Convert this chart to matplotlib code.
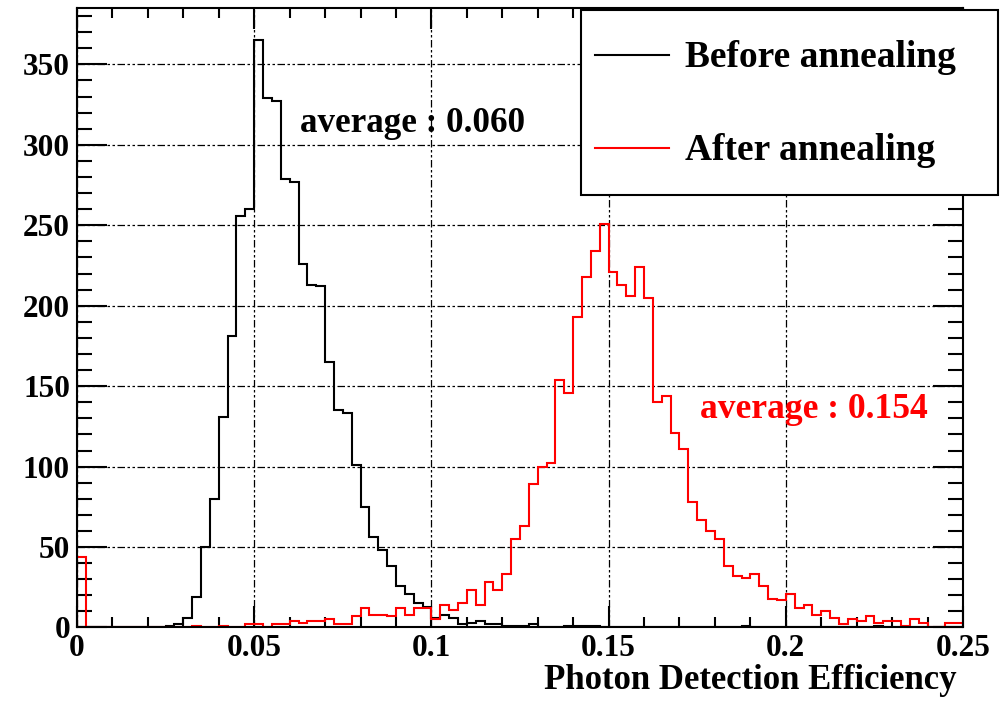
import matplotlib
matplotlib.use('Agg')
import matplotlib.pyplot as plt
import numpy as np
from matplotlib.lines import Line2D
from matplotlib.patches import Rectangle
from matplotlib.ticker import MultipleLocator, FuncFormatter

# ---- data -------------------------------------------------------------
bin_width = 0.0025
n_bins = 100
edges = np.arange(n_bins + 1) * bin_width

before_counts = [
    0, 0, 0, 0, 0, 0, 0, 0, 0, 0,            # 0.000-0.025
    1, 2, 6, 19, 50, 80, 131, 181, 256, 260,  # 0.025-0.050
    365, 329, 327, 279, 277, 226, 213, 212, 165, 135,  # 0.050-0.075
    133, 101, 75, 56, 48, 38, 26, 21, 15, 13,  # 0.075-0.100
    6, 8, 6, 2, 3, 4, 2, 2, 1, 1,              # 0.100-0.125
    1, 2, 0, 0, 0, 1, 1, 1, 1, 0,              # 0.125-0.150
    0, 0, 0, 0, 0, 0, 0, 0, 0, 0,              # 0.150-0.175
    0, 0, 0, 0, 0, 1, 0, 0, 0, 0,              # 0.175-0.200
    0, 0, 0, 0, 0, 0, 0, 0, 0, 0,              # 0.200-0.225
    1, 0, 0, 0, 0, 0, 0, 0, 0, 0,              # 0.225-0.250
]

after_counts = [
    44, 0, 0, 0, 0, 0, 0, 0, 0, 0,
    0, 0, 0, 1, 0, 0, 1, 0, 0, 2,
    2, 0, 2, 2, 4, 3, 4, 4, 5, 2,
    2, 7, 12, 8, 8, 7, 12, 8, 12, 12,
    5, 14, 11, 15, 23, 14, 28, 23, 33, 55,
    63, 89, 100, 102, 154, 146, 193, 218, 234, 251,
    221, 213, 206, 224, 205, 140, 144, 121, 111, 78,
    67, 60, 55, 38, 32, 31, 33, 26, 18, 17,
    21, 12, 14, 8, 10, 6, 2, 5, 4, 7,
    3, 4, 4, 1, 5, 3, 0, 0, 3, 3,
]

series_labels = ["Before annealing", "After annealing"]
series_colors = ["black", "red"]
avg_labels = ["average : 0.060", "average : 0.154"]
x_title = "Photon Detection Efficiency"

# ---- style ------------------------------------------------------------
plt.rcParams['font.family'] = ['Liberation Serif', 'DejaVu Serif']
plt.rcParams['font.weight'] = 'bold'

fig = plt.figure(figsize=(10, 7.03), dpi=100)
ax = fig.add_axes([0.077, 0.1074, 0.886, 0.8812])

ax.stairs(before_counts, edges, color=series_colors[0], lw=1.5, baseline=0, zorder=3)
ax.stairs(after_counts, edges, color=series_colors[1], lw=1.5, baseline=0, zorder=4)

ax.set_xlim(0, 0.25)
ax.set_ylim(0, 385)

ax.xaxis.set_major_locator(MultipleLocator(0.05))
ax.xaxis.set_minor_locator(MultipleLocator(0.01))
ax.yaxis.set_major_locator(MultipleLocator(50))
ax.yaxis.set_minor_locator(MultipleLocator(10))
ax.xaxis.set_major_formatter(FuncFormatter(lambda v, p: f"{v:g}"))
ax.yaxis.set_major_formatter(FuncFormatter(lambda v, p: f"{v:g}"))

ax.tick_params(axis='both', which='both', direction='in', top=True, right=True,
               width=1.5, colors='black')
ax.tick_params(axis='x', which='major', length=15, pad=5)
ax.tick_params(axis='x', which='minor', length=7.5)
ax.tick_params(axis='y', which='major', length=21.6, pad=5)
ax.tick_params(axis='y', which='minor', length=11)
ax.tick_params(axis='both', which='major', labelsize=22.5)

ax.grid(True, which='major', color='black', lw=0.9,
        linestyle=(0, (6, 2, 2, 2, 2, 2)), zorder=1)
ax.set_axisbelow(True)
for s in ax.spines.values():
    s.set_linewidth(1.5)
    s.set_zorder(6)

ax.set_xlabel(x_title, fontsize=25, fontweight='bold', loc='right')
ax.xaxis.label.set_va('baseline')
ax.xaxis.set_label_coords(0.9932, -0.1)

ax.text(0.0629, 307.9, avg_labels[0], color=series_colors[0], fontsize=25.3,
        fontweight='bold', va='baseline', ha='left', zorder=7)
ax.text(0.1758, 130.2, avg_labels[1], color=series_colors[1], fontsize=25.6,
        fontweight='bold', va='baseline', ha='left', zorder=7)

# ---- legend (ROOT-like box) ------------------------------------------
fig.add_artist(Rectangle((0.581, 0.7226), 0.417, 0.2632, transform=fig.transFigure,
                         facecolor='white', edgecolor='black', lw=1.5, zorder=10))
line_y = [0.9218, 0.7895]
text_y = [0.9051, 0.7724]
for lab, col, ly, ty in zip(series_labels, series_colors, line_y, text_y):
    fig.add_artist(Line2D([0.595, 0.669], [ly, ly], transform=fig.transFigure,
                          color=col, lw=1.5, zorder=11))
    fig.text(0.685, ty, lab, fontsize=27, fontweight='bold', va='baseline',
             ha='left', color='black', zorder=11)

fig.savefig('out.png', dpi=100)
